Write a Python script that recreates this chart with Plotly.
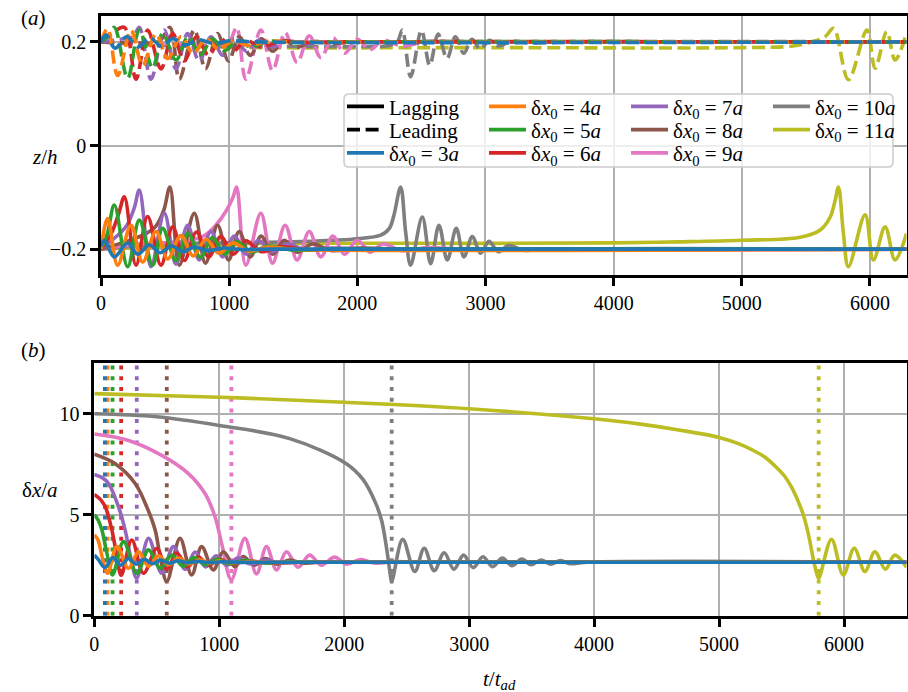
import plotly.graph_objects as go

FONT = "Liberation Serif, DejaVu Serif, Times New Roman, serif"
W, H = 908, 692

N_LABELS = ["3", "4", "5", "6", "7", "8", "9", "10", "11"]
COLORS = ["#1f77b4", "#ff7f0e", "#2ca02c", "#d62728", "#9467bd",
          "#8c564b", "#e377c2", "#7f7f7f", "#bcbd22"]
# time of first minimum of the separation (vertical dotted lines in panel b)
T_CROSS = [85, 106, 146, 215, 340, 580, 1097, 2380, 5797]

X_TICKS = [0, 1000, 2000, 3000, 4000, 5000, 6000]
YA_TICKS = [-0.2, 0, 0.2]
YA_TEXT = ["\u22120.2", "0", "0.2"]
YB_TICKS = [0, 5, 10]

# ---------------- panel (a): lagging particle z/h (solid) ----------------
LAG3_T = [0, 26, 104, 208, 286, 377, 460, 550, 640, 730, 830, 950, 1100, 1300, 6285]
LAG3_Z = [-0.195, -0.183, -0.215, -0.188, -0.21, -0.192, -0.207, -0.194, -0.205, -0.196, -0.203, -0.198, -0.201, -0.2, -0.2]
LAG4_T = [0, 52, 130, 234, 325, 429, 520, 624, 720, 820, 920, 1030, 1150, 1300, 1500, 6285]
LAG4_Z = [-0.2, -0.141, -0.231, -0.154, -0.225, -0.166, -0.219, -0.174, -0.213, -0.181, -0.208, -0.188, -0.204, -0.196, -0.2, -0.2]
LAG5_T = [0, 50, 104, 208, 299, 403, 481, 585, 680, 775, 870, 965, 1060, 1170, 1300, 1500, 1800, 6285]
LAG5_Z = [-0.2, -0.17, -0.115, -0.234, -0.144, -0.231, -0.16, -0.222, -0.17, -0.216, -0.178, -0.21, -0.186, -0.206, -0.194, -0.202, -0.2, -0.2]
LAG6_T = [0, 80, 140, 182, 273, 364, 468, 559, 650, 745, 840, 935, 1030, 1130, 1250, 1400, 1600, 1900, 6285]
LAG6_Z = [-0.2, -0.17, -0.13, -0.099, -0.231, -0.137, -0.231, -0.157, -0.222, -0.167, -0.215, -0.176, -0.21, -0.184, -0.205, -0.195, -0.201, -0.2, -0.2]
LAG7_T = [0, 100, 200, 260, 299, 390, 494, 585, 676, 767, 858, 950, 1040, 1135, 1230, 1330, 1450, 1600, 1800, 2100, 6285]
LAG7_Z = [-0.2, -0.18, -0.155, -0.12, -0.086, -0.234, -0.131, -0.229, -0.154, -0.221, -0.166, -0.215, -0.175, -0.21, -0.183, -0.205, -0.19, -0.202, -0.198, -0.2, -0.2]
LAG8_T = [0, 200, 350, 430, 490, 538, 611, 728, 815, 910, 995, 1078, 1165, 1250, 1340, 1430, 1530, 1650, 1800, 2000, 2300, 6285]
LAG8_Z = [-0.2, -0.185, -0.17, -0.155, -0.125, -0.08, -0.231, -0.131, -0.227, -0.154, -0.221, -0.166, -0.215, -0.175, -0.21, -0.183, -0.206, -0.19, -0.203, -0.198, -0.2, -0.2]
LAG9_T = [0, 300, 600, 800, 896, 980, 1030, 1058, 1130, 1247, 1338, 1437, 1530, 1625, 1715, 1810, 1900, 2000, 2100, 2200, 2350, 2550, 2800, 6285]
LAG9_Z = [-0.2, -0.19, -0.186, -0.175, -0.154, -0.125, -0.1, -0.08, -0.231, -0.131, -0.227, -0.154, -0.221, -0.166, -0.215, -0.175, -0.21, -0.183, -0.206, -0.19, -0.203, -0.197, -0.2, -0.2]
LAG10_T = [0, 500, 1000, 1500, 1800, 2000, 2182, 2250, 2286, 2338, 2377, 2416, 2507, 2572, 2637, 2702, 2772, 2832, 2897, 2962, 3027, 3100, 3180, 3300, 3500, 6285]
LAG10_Z = [-0.2, -0.19, -0.188, -0.186, -0.183, -0.18, -0.173, -0.16, -0.134, -0.08, -0.167, -0.231, -0.138, -0.228, -0.154, -0.221, -0.16, -0.215, -0.176, -0.208, -0.185, -0.205, -0.193, -0.202, -0.2, -0.2]
LAG11_T = [0, 1000, 3000, 4000, 4500, 5000, 5456, 5612, 5690, 5729, 5754, 5793, 5832, 5962, 6027, 6118, 6196, 6285]
LAG11_Z = [-0.2, -0.19, -0.189, -0.188, -0.186, -0.183, -0.177, -0.163, -0.138, -0.105, -0.08, -0.17, -0.234, -0.134, -0.221, -0.157, -0.221, -0.17]

# ---------------- panel (a): leading particle z/h (dashed) ----------------
LEAD3_T = [0, 40, 110, 200, 290, 380, 470, 560, 660, 760, 880, 1000, 1200, 6285]
LEAD3_Z = [0.2, 0.213, 0.188, 0.21, 0.19, 0.208, 0.192, 0.206, 0.194, 0.204, 0.197, 0.202, 0.2, 0.2]
LEAD4_T = [0, 52, 130, 234, 325, 429, 520, 624, 720, 820, 920, 1030, 1150, 1300, 1500, 6285]
LEAD4_Z = [0.2, 0.225, 0.135, 0.222, 0.155, 0.215, 0.168, 0.21, 0.178, 0.206, 0.186, 0.203, 0.193, 0.201, 0.2, 0.2]
LEAD5_T = [0, 50, 104, 208, 299, 403, 481, 585, 680, 775, 870, 965, 1060, 1170, 1300, 1500, 1800, 6285]
LEAD5_Z = [0.2, 0.21, 0.228, 0.13, 0.223, 0.15, 0.216, 0.165, 0.21, 0.175, 0.206, 0.183, 0.203, 0.19, 0.201, 0.199, 0.2, 0.2]
LEAD6_T = [0, 80, 182, 273, 364, 468, 559, 650, 745, 840, 935, 1030, 1130, 1250, 1400, 1600, 1900, 6285]
LEAD6_Z = [0.2, 0.215, 0.228, 0.128, 0.223, 0.148, 0.216, 0.163, 0.21, 0.174, 0.206, 0.182, 0.203, 0.19, 0.201, 0.199, 0.2, 0.2]
LEAD7_T = [0, 150, 250, 299, 390, 494, 585, 676, 767, 858, 950, 1040, 1135, 1230, 1330, 1450, 1600, 1800, 2100, 6285]
LEAD7_Z = [0.2, 0.205, 0.21, 0.228, 0.128, 0.223, 0.148, 0.216, 0.163, 0.21, 0.174, 0.206, 0.182, 0.203, 0.19, 0.201, 0.197, 0.2, 0.2, 0.2]
LEAD8_T = [0, 300, 450, 538, 611, 728, 815, 910, 995, 1078, 1165, 1250, 1340, 1430, 1530, 1650, 1800, 2000, 2300, 6285]
LEAD8_Z = [0.2, 0.198, 0.2, 0.228, 0.128, 0.223, 0.148, 0.216, 0.163, 0.21, 0.174, 0.206, 0.182, 0.203, 0.19, 0.201, 0.197, 0.2, 0.2, 0.2]
LEAD9_T = [0, 500, 900, 1000, 1058, 1130, 1247, 1338, 1437, 1530, 1625, 1715, 1810, 1900, 2000, 2100, 2200, 2350, 2550, 2800, 6285]
LEAD9_Z = [0.2, 0.196, 0.195, 0.2, 0.228, 0.128, 0.223, 0.145, 0.218, 0.16, 0.212, 0.17, 0.208, 0.178, 0.205, 0.185, 0.203, 0.192, 0.201, 0.2, 0.2]
LEAD10_T = [0, 500, 1000, 1500, 2000, 2250, 2312, 2351, 2416, 2500, 2565, 2630, 2700, 2765, 2830, 2895, 2960, 3030, 3100, 3200, 3350, 3600, 6285]
LEAD10_Z = [0.2, 0.193, 0.191, 0.191, 0.191, 0.193, 0.2, 0.223, 0.133, 0.222, 0.155, 0.215, 0.168, 0.21, 0.178, 0.205, 0.186, 0.203, 0.192, 0.201, 0.198, 0.2, 0.2]
LEAD11_T = [0, 1000, 3000, 5000, 5400, 5550, 5650, 5716, 5832, 5976, 6040, 6131, 6196, 6285]
LEAD11_Z = [0.2, 0.19, 0.189, 0.189, 0.192, 0.2, 0.21, 0.226, 0.127, 0.223, 0.149, 0.22, 0.165, 0.217]

# ---------------- panel (b): separation dx/a ----------------
DX3_T = [0, 30, 85, 150, 210, 275, 335, 400, 465, 530, 600, 670, 750, 830, 920, 1020, 1150, 1300, 6500]
DX3_V = [3.0, 2.8, 2.38, 2.88, 2.5, 2.83, 2.55, 2.79, 2.58, 2.75, 2.6, 2.72, 2.62, 2.69, 2.63, 2.67, 2.64, 2.65, 2.65]
DX4_T = [0, 30, 61, 106, 181, 274, 354, 434, 514, 595, 675, 760, 840, 920, 1000, 1100, 1250, 1450, 1700, 6500]
DX4_V = [4.0, 3.75, 2.95, 2.1, 3.42, 2.35, 3.17, 2.45, 2.97, 2.52, 2.85, 2.56, 2.77, 2.6, 2.71, 2.62, 2.68, 2.64, 2.65, 2.65]
DX5_T = [0, 30, 61, 101, 146, 234, 341, 434, 527, 620, 710, 800, 890, 980, 1080, 1200, 1350, 1550, 1800, 6500]
DX5_V = [5.0, 4.75, 4.24, 3.09, 2.02, 3.67, 2.1, 3.26, 2.35, 3.0, 2.45, 2.88, 2.52, 2.8, 2.57, 2.73, 2.61, 2.67, 2.65, 2.65]
DX6_T = [0, 50, 88, 141, 181, 215, 300, 394, 500, 580, 660, 745, 830, 915, 1000, 1100, 1220, 1380, 1600, 1900, 6500]
DX6_V = [6.0, 5.75, 5.39, 4.24, 2.93, 2.0, 3.75, 2.1, 3.33, 2.3, 3.1, 2.42, 2.92, 2.5, 2.8, 2.56, 2.72, 2.61, 2.67, 2.65, 2.65]
DX7_T = [0, 60, 114, 194, 247, 290, 340, 434, 540, 633, 727, 806, 890, 975, 1060, 1150, 1250, 1370, 1500, 1700, 2000, 6500]
DX7_V = [7.0, 6.85, 6.55, 5.39, 4.24, 2.93, 1.86, 3.83, 2.1, 3.42, 2.3, 3.15, 2.42, 2.97, 2.5, 2.85, 2.56, 2.75, 2.6, 2.67, 2.65, 2.65]
DX8_T = [0, 168, 327, 420, 487, 527, 580, 686, 779, 859, 952, 1032, 1125, 1192, 1280, 1370, 1460, 1560, 1680, 1850, 2100, 6500]
DX8_V = [8.0, 7.53, 6.55, 5.39, 4.24, 2.93, 1.7, 3.83, 2.02, 3.42, 2.27, 3.17, 2.43, 2.93, 2.5, 2.83, 2.55, 2.75, 2.6, 2.67, 2.65, 2.65]
DX9_T = [0, 274, 540, 753, 886, 966, 1019, 1097, 1205, 1298, 1378, 1458, 1538, 1631, 1724, 1817, 1923, 2020, 2130, 2250, 2400, 2600, 6500]
DX9_V = [9.0, 8.68, 7.94, 7.04, 6.05, 4.9, 3.58, 1.78, 3.83, 2.07, 3.42, 2.27, 3.17, 2.4, 3.0, 2.5, 2.9, 2.55, 2.78, 2.6, 2.68, 2.65, 2.65]
DX10_T = [0, 500, 1000, 1564, 2017, 2150, 2250, 2300, 2340, 2365, 2380, 2468, 2565, 2640, 2720, 2800, 2878, 2955, 3032, 3110, 3188, 3265, 3342, 3420, 3497, 3575, 3652, 3730, 3808, 3950, 6500]
DX10_V = [10.0, 9.85, 9.42, 8.77, 7.53, 6.75, 5.6, 4.7, 3.3, 2.2, 1.7, 3.78, 2.19, 3.34, 2.23, 3.12, 2.3, 3.0, 2.38, 2.92, 2.43, 2.85, 2.48, 2.8, 2.52, 2.76, 2.55, 2.73, 2.58, 2.65, 2.65]
DX11_T = [0, 1000, 2000, 3000, 4000, 4357, 4677, 5000, 5155, 5262, 5368, 5450, 5528, 5581, 5634, 5674, 5701, 5728, 5754, 5781, 5797, 5900, 5994, 6082, 6167, 6247, 6331, 6406, 6500]
DX11_V = [11.0, 10.82, 10.57, 10.25, 9.75, 9.5, 9.2, 8.83, 8.52, 8.22, 7.85, 7.4, 6.88, 6.35, 5.65, 5.0, 4.4, 3.65, 2.8, 2.1, 1.86, 3.78, 2.02, 3.34, 2.19, 3.17, 2.3, 3.0, 2.4]

LAG_T = [LAG3_T, LAG4_T, LAG5_T, LAG6_T, LAG7_T, LAG8_T, LAG9_T, LAG10_T, LAG11_T]
LAG_Z = [LAG3_Z, LAG4_Z, LAG5_Z, LAG6_Z, LAG7_Z, LAG8_Z, LAG9_Z, LAG10_Z, LAG11_Z]
LEAD_T = [LEAD3_T, LEAD4_T, LEAD5_T, LEAD6_T, LEAD7_T, LEAD8_T, LEAD9_T, LEAD10_T, LEAD11_T]
LEAD_Z = [LEAD3_Z, LEAD4_Z, LEAD5_Z, LEAD6_Z, LEAD7_Z, LEAD8_Z, LEAD9_Z, LEAD10_Z, LEAD11_Z]
DX_T = [DX3_T, DX4_T, DX5_T, DX6_T, DX7_T, DX8_T, DX9_T, DX10_T, DX11_T]
DX_V = [DX3_V, DX4_V, DX5_V, DX6_V, DX7_V, DX8_V, DX9_V, DX10_V, DX11_V]

LW = 3.6
DASH = "13px,5.6px"
DOT = "4px,6.7px"

fig = go.Figure()
order = list(range(len(N_LABELS) - 1, -1, -1))  # blue drawn last (on top)

for i in order:
    fig.add_trace(go.Scatter(x=[T_CROSS[i], T_CROSS[i]], y=[0, 12.5], mode="lines",
                             line=dict(color=COLORS[i], width=3.8, dash=DOT),
                             xaxis="x2", yaxis="y2", showlegend=False, hoverinfo="skip"))
for i in order:
    fig.add_trace(go.Scatter(x=DX_T[i], y=DX_V[i], mode="lines",
                             line=dict(color=COLORS[i], width=LW, shape="spline", smoothing=1),
                             xaxis="x2", yaxis="y2", showlegend=False))
for i in order:
    fig.add_trace(go.Scatter(x=LEAD_T[i], y=LEAD_Z[i], mode="lines",
                             line=dict(color=COLORS[i], width=LW, dash=DASH, shape="spline", smoothing=1),
                             xaxis="x", yaxis="y", showlegend=False))
    fig.add_trace(go.Scatter(x=LAG_T[i], y=LAG_Z[i], mode="lines",
                             line=dict(color=COLORS[i], width=LW, shape="spline", smoothing=1),
                             xaxis="x", yaxis="y", showlegend=False))

# legend entries (three horizontal rows, four columns)
def entry(name, color, dash, legend, lw=None):
    fig.add_trace(go.Scatter(x=[None], y=[None], mode="lines", name=name,
                             line=dict(color=color, width=3.8, dash=dash),
                             legend=legend, showlegend=True, legendwidth=lw))

def dxlabel(k):
    return "\u03b4<i>x</i><sub>0</sub> = " + N_LABELS[k] + "<i>a</i>"

entry("Lagging", "black", "solid", "legend")
entry(dxlabel(1), COLORS[1], "solid", "legend")
entry(dxlabel(4), COLORS[4], "solid", "legend")
entry(dxlabel(7), COLORS[7], "solid", "legend", 80)
entry("Leading", "black", DASH, "legend2")
entry(dxlabel(2), COLORS[2], "solid", "legend2")
entry(dxlabel(5), COLORS[5], "solid", "legend2")
entry(dxlabel(8), COLORS[8], "solid", "legend2", 80)
entry(dxlabel(0), COLORS[0], "solid", "legend3")
entry(dxlabel(3), COLORS[3], "solid", "legend3")
entry(dxlabel(6), COLORS[6], "solid", "legend3")

axis_common = dict(showline=True, linecolor="black", linewidth=2.7, mirror=True,
                   ticks="outside", ticklen=8, tickwidth=2.5, tickcolor="black",
                   showgrid=True, gridcolor="#b0b0b0", gridwidth=2.2, zeroline=False,
                   automargin=False,
                   tickfont=dict(family=FONT, size=20, color="black"))

leg_common = dict(orientation="h", font=dict(family=FONT, size=21, color="black"),
                  bgcolor="rgba(0,0,0,0)", borderwidth=0, itemwidth=37,
                  entrywidthmode="pixels", entrywidth=90,
                  xanchor="left", yanchor="middle", traceorder="normal")

def px_x(v):
    return v / W

def px_y(v):
    return 1 - v / H

# legend frame with rounded corners (paper coordinates)
BX0, BX1, BY0, BY1, R = 344, 893, 94, 167, 5
frame_path = (
    f"M {px_x(BX0 + R)},{px_y(BY0)} L {px_x(BX1 - R)},{px_y(BY0)} "
    f"Q {px_x(BX1)},{px_y(BY0)} {px_x(BX1)},{px_y(BY0 + R)} "
    f"L {px_x(BX1)},{px_y(BY1 - R)} Q {px_x(BX1)},{px_y(BY1)} {px_x(BX1 - R)},{px_y(BY1)} "
    f"L {px_x(BX0 + R)},{px_y(BY1)} Q {px_x(BX0)},{px_y(BY1)} {px_x(BX0)},{px_y(BY1 - R)} "
    f"L {px_x(BX0)},{px_y(BY0 + R)} Q {px_x(BX0)},{px_y(BY0)} {px_x(BX0 + R)},{px_y(BY0)} Z"
)

fig.update_layout(
    width=W, height=H, margin=dict(l=0, r=0, t=0, b=0, autoexpand=False),
    paper_bgcolor="white", plot_bgcolor="white",
    font=dict(family=FONT, size=20, color="black"),
    xaxis=dict(domain=[px_x(101), px_x(906.5)], range=[0, 6285], anchor="y",
               tickvals=X_TICKS, **axis_common),
    yaxis=dict(domain=[px_y(275), px_y(16)], range=[-0.25, 0.25], anchor="x",
               tickvals=YA_TICKS, ticktext=YA_TEXT, **axis_common),
    xaxis2=dict(domain=[px_x(94.3), px_x(906.5)], range=[0, 6500], anchor="y2",
                tickvals=X_TICKS, **axis_common),
    yaxis2=dict(domain=[px_y(615.7), px_y(363.3)], range=[0, 12.5], anchor="x2",
                tickvals=YB_TICKS, **axis_common),
    legend=dict(x=px_x(342), y=px_y(106.7), **leg_common),
    legend2=dict(x=px_x(342), y=px_y(130), **leg_common),
    legend3=dict(x=px_x(342), y=px_y(153.3), **leg_common),
    shapes=[dict(type="path", xref="paper", yref="paper", layer="above", path=frame_path,
                 fillcolor="rgba(255,255,255,0.8)", line=dict(color="#cccccc", width=1.5))],
    showlegend=True,
)

def ann(text, x, y, size=21):
    fig.add_annotation(text=text, x=px_x(x), y=px_y(y), xref="paper", yref="paper",
                       showarrow=False, xanchor="center", yanchor="middle",
                       font=dict(family=FONT, size=size, color="black"))

ann("(<i>a</i>)", 33, 18)
ann("(<i>b</i>)", 33, 350)
ann("<i>z</i>/<i>h</i>", 45, 157)
ann("\u03b4<i>x</i>/<i>a</i>", 40, 490)
ann("<i>t</i>/<i>t</i><sub><i>ad</i></sub>", 500, 680)

# remove the default page margin so the 908x692 figure fills the window exactly
fig.write_html("out.html",
               config={"displayModeBar": False},
               post_script="document.body.style.margin='0';document.body.style.padding='0';"
                           "document.body.style.overflow='hidden';")
